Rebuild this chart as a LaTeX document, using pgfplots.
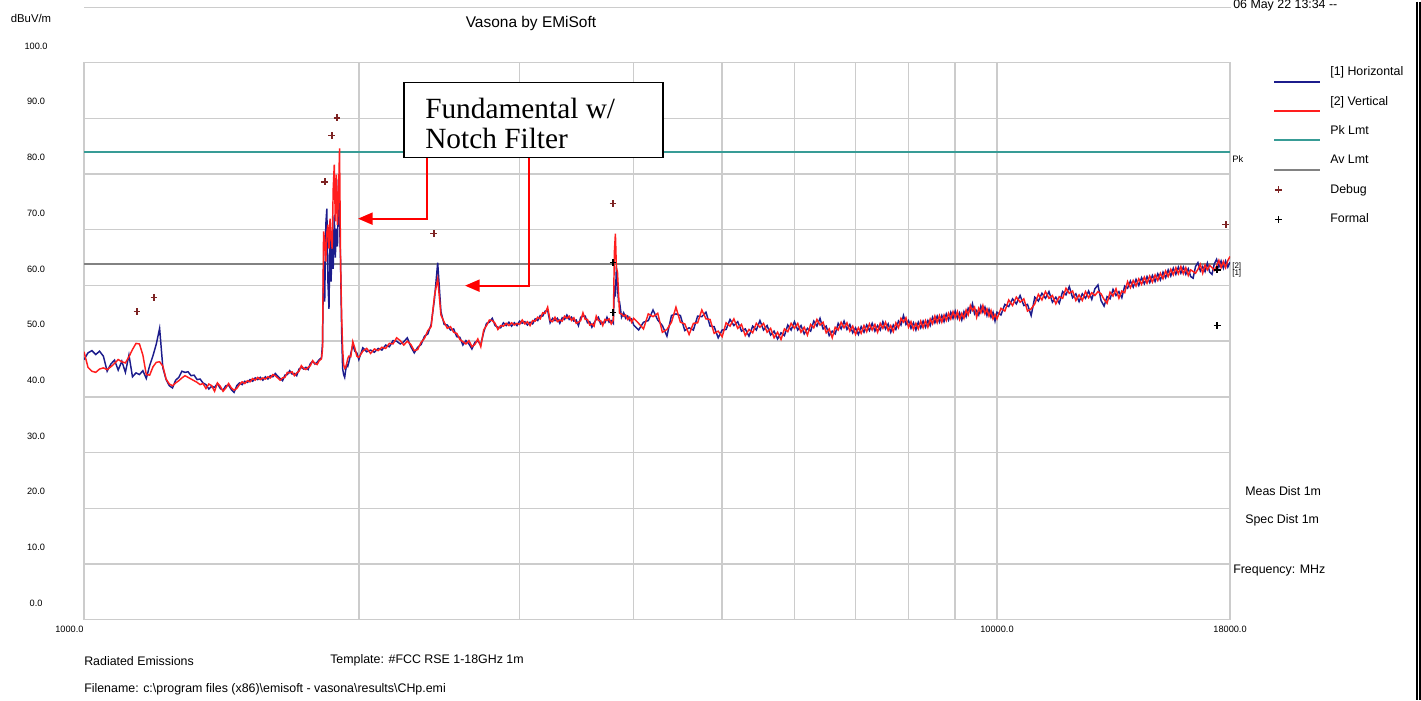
\documentclass[border=0pt]{standalone}
\usepackage{fontspec}
\setmainfont{Liberation Sans}
\newfontfamily\calloutfont{Liberation Serif}
\usepackage{pgfplots}
\usepackage{pgfplotstable}
\pgfplotsset{compat=1.18}
\usetikzlibrary{arrows.meta}

\definecolor{hblue}{RGB}{28,28,140}
\definecolor{vred}{RGB}{255,30,30}
\definecolor{pkc}{RGB}{56,156,150}
\definecolor{avc}{RGB}{130,130,130}
\definecolor{dbg}{RGB}{125,35,35}
\definecolor{gridc}{RGB}{204,204,204}
\newcommand\fs[1]{\fontsize{#1}{#1}\selectfont}

% f [MHz], horizontal, vertical [dBuV/m]
\pgfplotstableread{
f h v
1000 46.7 48.1
1010 47.9 45.3
1020 48.3 44.6
1030 47.6 44.4
1040 48.2 45.0
1050 47.3 45.2
1060 44.6 44.9
1070 45.9 45.4
1080 46.6 46.0
1090 44.8 46.7
1100 46.4 46.3
1110 44.4 46.1
1120 47.5 47.2
1130 43.6 48.5
1140 44.3 49.6
1150 44.0 49.5
1160 44.7 47.5
1170 43.3 44.0
1180 45.6 43.9
1190 47.4 45.4
1200 49.5 46.2
1210 52.3 46.3
1220 45.2 45.5
1230 43.1 43.2
1240 42.0 42.3
1250 41.6 42.0
1260 43.0 42.5
1270 43.5 42.9
1280 44.6 43.4
1290 44.4 43.8
1300 44.5 43.5
1310 43.8 43.2
1320 43.9 42.9
1330 43.1 42.6
1340 43.2 42.2
1350 42.5 42.4
1360 42.2 41.5
1370 41.4 42.3
1380 41.9 42.0
1390 41.7 41.0
1400 42.4 42.5
1410 41.5 41.9
1420 41.2 41.0
1430 42.0 41.6
1440 42.1 42.4
1450 41.3 41.6
1460 40.8 41.2
1470 42.0 41.5
1480 42.5 42.2
1490 42.2 42.7
1500 42.8 42.4
1510 42.6 42.9
1520 43.1 42.7
1530 42.8 43.3
1540 43.4 43.0
1550 43.1 43.5
1560 43.5 43.1
1570 43.0 43.4
1580 43.6 43.2
1590 43.2 43.6
1600 43.8 43.4
1610 43.6 44.0
1620 44.2 43.8
1630 43.7 43.4
1640 43.3 43.0
1650 42.9 43.4
1660 43.9 43.5
1670 44.0 44.4
1680 44.7 44.3
1690 44.1 44.5
1700 44.2 43.8
1710 43.8 44.3
1720 45.0 44.6
1730 45.3 45.6
1740 45.0 45.1
1750 45.3 44.9
1760 44.9 45.3
1770 46.0 45.6
1780 46.4 46.5
1790 45.9 46.0
1800 46.2 45.8
1810 46.7 46.5
1820 47.0 46.8
1825 49.5 48.5
1830 64.3 69.7
1835 57.1 68.0
1840 70.9 64.3
1845 73.8 69.5
1850 60.7 70.9
1855 55.8 66.6
1860 70.2 72.0
1865 60.7 68.5
1870 69.1 66.6
1875 63.0 77.4
1880 72.7 81.7
1885 65.0 71.5
1890 70.2 79.9
1895 67.0 70.9
1900 79.2 76.0
1905 72.0 84.6
1910 64.3 64.3
1915 52.2 55.0
1920 45.1 48.7
1925 44.0 45.8
1930 43.5 45.1
1935 44.8 45.3
1940 45.8 46.0
1945 45.5 46.9
1950 46.2 47.3
1960 47.8 47.2
1970 49.3 49.9
1980 48.2 48.8
1990 47.9 47.3
2000 46.7 47.1
2020 48.8 48.2
2040 48.1 48.7
2060 48.4 47.8
2080 48.0 48.6
2100 48.7 48.3
2120 48.4 48.9
2140 49.3 48.7
2160 49.0 49.6
2180 50.1 49.5
2200 50.0 50.6
2220 49.5 50.1
2240 49.9 49.3
2260 50.6 50.0
2280 49.0 49.4
2300 47.9 48.3
2320 48.9 48.5
2340 49.4 49.8
2360 50.9 50.5
2380 51.3 51.9
2400 53.0 52.6
2420 57.5 58.1
2440 64.1 61.2
2460 55.3 54.7
2480 53.0 53.4
2500 52.9 52.3
2520 52.0 52.6
2540 52.2 51.6
2560 50.8 51.4
2580 50.7 50.3
2600 49.3 49.9
2620 50.1 49.5
2640 49.5 50.1
2660 48.6 49.0
2680 49.8 49.4
2700 50.0 50.4
2720 49.4 49.0
2740 51.6 52.0
2760 53.2 52.8
2780 53.4 53.8
2800 54.1 53.7
2820 52.8 53.2
2840 52.5 52.1
2860 52.4 52.8
2880 53.3 52.7
2900 52.8 53.2
2920 53.4 52.8
2940 52.7 53.3
2960 53.3 52.9
2980 52.8 53.2
3000 53.6 53.0
3020 53.2 53.8
3040 53.5 53.1
3060 52.9 53.5
3080 53.4 52.8
3100 53.1 53.7
3120 54.0 53.6
3140 53.7 54.3
3160 54.6 54.0
3180 54.5 55.1
3200 55.4 55.0
3220 55.5 56.1
3240 53.3 53.7
3260 54.1 53.5
3280 53.7 54.3
3300 54.1 53.5
3320 53.2 53.8
3340 54.2 53.6
3360 53.9 54.5
3380 54.7 54.1
3400 53.9 54.5
3420 54.3 53.7
3440 53.6 54.2
3460 53.8 53.2
3480 52.8 53.4
3500 54.3 53.7
3520 54.5 55.1
3540 54.5 53.9
3560 53.3 53.9
3580 53.5 52.9
3600 52.5 53.1
3620 53.3 52.7
3640 53.9 54.5
3660 54.3 53.7
3680 53.1 53.7
3700 53.4 52.8
3720 53.3 53.9
3740 54.3 53.7
3760 53.4 54.0
3780 53.7 53.1
3800 53.2 53.8
3810 60.0 66.0
3820 58.0 69.3
3830 63.4 63.0
3840 60.0 62.5
3850 57.1 58.9
3860 57.1 55.0
3880 54.3 54.9
3900 55.1 54.5
3920 54.1 54.7
3940 54.5 53.9
3960 53.7 54.3
3980 54.0 53.4
4000 52.9 54.1
4050 52.0 53.2
4100 53.4 52.2
4150 53.7 54.9
4200 55.6 54.4
4250 53.8 55.0
4300 52.8 51.6
4350 50.9 52.1
4400 54.6 53.4
4450 54.9 56.1
4500 54.6 53.4
4550 51.9 53.1
4600 52.4 51.2
4650 52.0 53.2
4700 54.5 53.3
4750 54.4 55.6
4800 55.2 54.0
4850 52.7 53.9
4900 52.6 51.4
4950 50.6 51.8
5000 52.0 50.8
5050 52.1 53.3
5100 53.9 52.7
5150 52.8 54.0
5200 53.5 52.3
5250 51.8 53.0
5300 52.2 51.0
5350 50.9 52.1
5400 52.7 51.5
5450 52.0 53.2
5500 53.7 52.5
5550 52.0 53.2
5600 52.8 51.6
5650 51.1 52.3
5700 51.8 50.6
5750 50.4 51.6
5800 51.5 50.3
5850 51.0 52.2
5900 52.9 51.7
5950 52.0 53.2
6000 53.5 52.3
6050 52.0 53.2
6100 52.8 51.6
6150 51.3 52.5
6200 52.3 51.1
6250 51.8 53.0
6300 53.6 52.4
6350 52.7 53.9
6400 54.1 52.9
6450 52.2 53.4
6500 52.7 51.5
6550 51.0 52.2
6600 51.8 50.6
6650 51.3 52.5
6700 53.2 52.0
6750 52.2 53.4
6800 53.6 52.4
6850 52.1 53.3
6900 53.0 51.8
6950 51.5 52.7
7000 52.4 51.2
7050 51.2 52.4
7100 52.6 51.4
7150 51.6 52.8
7200 52.9 51.7
7250 51.9 53.1
7300 53.2 52.0
7350 51.8 53.0
7400 52.8 51.6
7450 52.0 53.2
7500 53.5 52.3
7550 52.2 53.4
7600 53.1 51.9
7650 51.6 52.8
7700 52.9 51.7
7750 52.1 53.3
7800 53.6 52.4
7850 52.9 54.1
7900 54.6 53.4
7950 53.0 54.2
8000 53.7 52.5
8050 52.3 53.5
8100 53.3 52.1
8150 52.0 53.2
8200 53.4 52.2
8250 52.4 53.6
8300 53.6 52.4
8350 52.5 53.7
8400 53.7 52.5
8450 52.8 54.0
8500 54.3 53.1
8550 53.3 54.5
8600 54.5 53.3
8650 53.4 54.6
8700 54.6 53.4
8750 53.5 54.7
8800 54.9 53.7
8850 53.8 55.0
8900 55.2 54.0
8950 54.1 55.3
9000 55.4 54.2
9050 54.1 55.3
9100 55.1 53.9
9150 53.8 55.0
9200 55.3 54.1
9250 54.4 55.6
9300 55.9 54.7
9350 55.2 56.4
9400 56.7 55.5
9450 54.9 56.1
9500 55.5 54.3
9550 54.7 55.9
9600 56.3 55.1
9650 55.2 56.4
9700 56.1 54.9
9750 54.6 55.8
9800 55.7 54.5
9850 54.3 55.5
9900 55.2 54.0
9950 53.6 54.8
10000 55.2 54.0
10100 54.7 55.9
10200 56.6 55.4
10300 56.2 57.4
10400 57.6 56.4
10500 56.7 57.9
10600 58.2 57.0
10700 56.4 57.6
10800 56.6 55.4
10900 54.6 55.8
11000 57.9 56.7
11100 57.2 58.4
11200 58.6 57.4
11300 57.7 58.9
11400 58.9 57.7
11500 57.0 58.2
11600 57.9 56.7
11700 56.8 58.0
11800 58.9 57.7
11900 58.3 59.5
12000 59.8 58.6
12100 57.8 59.0
12200 58.5 57.3
12300 57.1 58.3
12400 58.5 57.3
12500 57.7 58.9
12600 59.0 57.8
12700 57.5 58.7
12800 59.4 58.2
12900 60.1 58.9
13000 57.3 58.5
13100 56.3 57.5
13200 58.0 56.8
13300 57.6 58.8
13400 59.3 58.1
13500 58.2 59.4
13600 58.9 57.7
13700 57.8 59.0
13800 59.9 58.7
13900 59.5 60.7
14000 60.8 59.6
14100 59.7 60.9
14200 61.1 59.9
14300 60.0 61.2
14400 61.4 60.2
14500 60.3 61.5
14600 61.6 60.4
14700 60.5 61.7
14800 61.8 60.6
14900 60.7 61.9
15000 62.1 60.9
15100 61.0 62.2
15200 62.4 61.2
15300 61.4 62.6
15400 62.8 61.6
15500 61.7 62.9
15600 63.1 61.9
15700 62.0 63.2
15800 63.3 62.1
15900 62.2 63.4
16000 63.3 62.1
16100 62.0 63.2
16200 63.0 61.8
16300 61.6 62.8
16400 61.3 62.5
16500 63.4 62.2
16600 64.1 62.9
16700 62.6 63.8
16800 63.4 62.2
16900 62.5 63.7
17000 64.0 62.8
17100 62.4 63.6
17200 62.0 63.2
17300 63.9 62.7
17400 64.7 63.5
17500 63.3 64.5
17600 64.4 63.2
17700 63.1 64.3
17800 64.4 63.2
17900 63.3 64.5
18000 64.2 65.2
}\scan

\pgfplotsset{
  lineleg/.style={legend image code/.code={%
    \path[draw=none,fill=none] (0pt,0pt) -- (34.5pt,0pt);
    \draw[overlay,##1] (0pt,-6.75pt) -- (34.5pt,-6.75pt);}},
  markleg/.style={legend image code/.code={%
    \path[draw=none,fill=none] (0pt,0pt) -- (34.5pt,0pt);
    \draw[##1] plot coordinates {(3pt,0pt)};}},
}

\begin{document}
\begin{tikzpicture}
\begin{scope}[x=0.75pt,y=-0.75pt]
  \useasboundingbox (0,0) rectangle (1421,698);
  \coordinate (ll) at (84,618);
\end{scope}

\begin{axis}[
  at={(ll)}, anchor=south west,
  scale only axis, width=859.5pt, height=417.75pt,
  xmode=log, xmin=1000, xmax=18000, ymin=0, ymax=100,
  xtick={10000,18000}, xticklabels={10000.0,18000.0},
  extra x ticks={1000}, extra x tick labels={1000.0},
  extra x tick style={grid=none, xticklabel style={xshift=-11pt}},
  minor xtick={2000,3000,4000,5000,6000,7000,8000,9000},
  ytick={0,10,...,100},
  yticklabels={0.0,10.0,20.0,30.0,40.0,50.0,60.0,70.0,80.0,90.0,100.0},
  major tick length=0pt, minor tick length=0pt,
  grid=both,
  grid style={draw=gridc, line width=1.1pt},
  major grid style={draw=gridc, line width=1.1pt},
  minor grid style={draw=gridc, line width=1.1pt},
  axis line style={draw=gridc, line width=1.1pt},
  ticklabel style={font=\fs{6.9}},
  xticklabel style={anchor=center, yshift=-7.5pt},
  yticklabel style={anchor=center, xshift=-36pt, yshift=12.4pt},
  legend style={at={(1.0349,0.9982)}, anchor=north west, draw=none, fill=none,
    font=\fs{9.3}, row sep=13pt, column sep=7.5pt,
    nodes={inner sep=0pt, text height=7pt, text depth=2pt}},
  legend cell align=left,
]
\addplot[avc, line width=1.5pt, forget plot] coordinates {(1000,63.8) (18000,63.8)};
\addplot[pkc, line width=1.5pt, forget plot] coordinates {(1000,84.0) (18000,84.0)};
\addplot[hblue, line width=1.1pt, forget plot] table[x=f, y=h] {\scan};
\addplot[vred, line width=1.1pt, forget plot] table[x=f, y=v] {\scan};
\addplot[only marks, mark=+, mark size=2.6pt, dbg, mark options={line width=1.1pt}, forget plot]
  coordinates {(1143,55.3) (1193,57.8) (1836,78.6) (1869,86.9) (1893,90.1)
               (2417,69.3) (3797,74.7) (17810,70.9)};
\addplot[only marks, mark=+, mark size=2.6pt, black, mark options={line width=1.1pt}, forget plot]
  coordinates {(3797,64.1) (3797,55.1) (17420,52.8) (17420,62.8)};

\addlegendimage{lineleg, hblue, line width=1.5pt}
\addlegendentry{[1] Horizontal}
\addlegendimage{lineleg, vred, line width=1.5pt}
\addlegendentry{[2] Vertical}
\addlegendimage{lineleg, pkc, line width=1.5pt}
\addlegendentry{Pk Lmt}
\addlegendimage{lineleg, avc, line width=1.5pt}
\addlegendentry{Av Lmt}
\addlegendimage{markleg, only marks, mark=+, mark size=2.6pt, dbg, mark options={line width=1.1pt}}
\addlegendentry{Debug}
\addlegendimage{markleg, only marks, mark=+, mark size=2.6pt, black, mark options={line width=1.1pt}}
\addlegendentry{Formal}
\end{axis}

\begin{scope}[x=0.75pt,y=-0.75pt, every node/.style={inner sep=0pt}]
  % frame decorations
  \draw[gridc, line width=0.9pt] (84,6) -- (1231,6);
  \draw[black, line width=1pt] (1417,0) -- (1417,698);
  \draw[black, line width=1pt] (1420,0) -- (1420,698);
  % headings
  \node[font=\fs{11.6}] at (531,22) {Vasona by EMiSoft};
  \node[font=\fs{8.5}] at (31,17) {dBuV/m};
  \node[font=\fs{9.3}, anchor=base west] at (1233,7) {06 May 22 13:34 -{}-};
  \node[font=\fs{7}, anchor=west] at (1232,157) {Pk};
  \node[font=\fs{6}, anchor=west] at (1232,265) {[2]};
  \node[font=\fs{6}, anchor=west] at (1232,272) {[1]};
  % right side notes
  \node[font=\fs{9.3}, anchor=west] at (1245,489) {Meas Dist 1m};
  \node[font=\fs{9.3}, anchor=west] at (1245,519) {Spec Dist 1m};
  \node[font=\fs{9.3}, anchor=west] at (1233,569) {Frequency: MHz};
  % footer
  \node[font=\fs{9.3}, anchor=west] at (84,659) {Radiated Emissions};
  \node[font=\fs{9.3}, anchor=west] at (330,659) {Template: \#FCC RSE 1-18GHz 1m};
  \node[font=\fs{9.3}, anchor=west] at (84,688)
    {Filename: c:\textbackslash program files (x86)\textbackslash emisoft - vasona\textbackslash results\textbackslash CHp.emi};
  % callout
  \draw[black, line width=1.1pt, fill=white] (404,81) rectangle (663,156);
  \node[font=\calloutfont\fs{22}, anchor=base west] at (425,117) {Fundamental w/};
  \node[font=\calloutfont\fs{22}, anchor=base west] at (425,147) {Notch Filter};
  \draw[red, line width=1.6pt, -{Triangle[length=11pt,width=9pt]}]
    (427,156) -- (427,217) -- (358,217);
  \draw[red, line width=1.6pt, -{Triangle[length=11pt,width=9pt]}]
    (529,156) -- (529,284) -- (465,284);
\end{scope}
\end{tikzpicture}
\end{document}
